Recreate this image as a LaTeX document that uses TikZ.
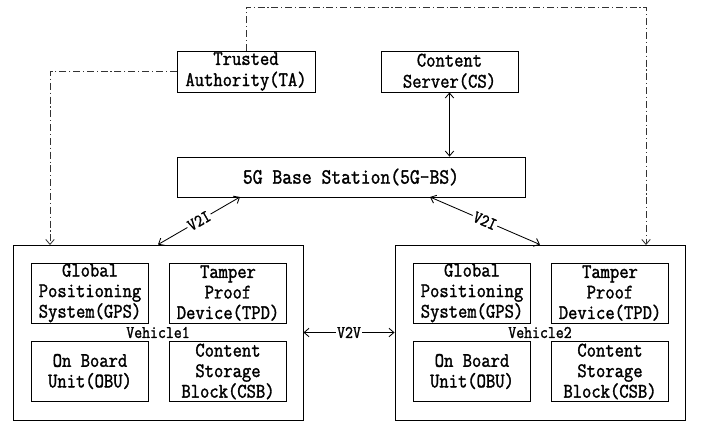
\documentclass[tikz,border=0pt]{standalone}
\usepackage{fontspec}
\newfontfamily\diagfont[FakeStretch=0.875, FakeBold=1.5]{Latin Modern Mono}
\usetikzlibrary{arrows.meta}

\tikzset{
    entity/.style={draw, line width=0.6pt, inner sep=0pt, align=center,
        font=\diagfont\fontsize{14.7}{15}\selectfont},
    carbox/.style={entity, minimum width=7.25cm, minimum height=4.375cm,
        font=\diagfont\fontsize{12.5}{13}\selectfont},
    partbox/.style={entity, minimum width=2.925cm, minimum height=1.5cm,
        font=\diagfont\fontsize{14.7}{14.6}\selectfont},
    link/.style={line width=0.6pt},
    trust/.style={line width=0.6pt, black!80, dash pattern=on 5pt off 2pt on 0.8pt off 2pt},
    linklabel/.style={fill=white, inner sep=1pt, font=\diagfont\fontsize{12.5}{13}\selectfont},
}

\begin{document}
\begin{tikzpicture}[x=0.025cm, y=-0.025cm, >={Straight Barb[length=3.5pt,width=6pt]}]
    \useasboundingbox (0,0) rectangle (701,423);

    % infrastructure
    \node[entity, minimum width=3.45cm, minimum height=1.025cm] (ta) at (246,71.5) {Trusted\\Authority(TA)};
    \node[entity, minimum width=3.425cm, minimum height=1.025cm] (cs) at (449.5,71.5) {Content\\Server(CS)};
    \node[entity, minimum width=8.7cm, minimum height=1cm,
        font=\diagfont\fontsize{15.5}{16}\selectfont] (bs) at (351,177) {5G Base Station(5G-BS)};

    % the two vehicles and their on-board parts
    \foreach \i/\dx in {1/0, 2/382} {
        \node[carbox] (v\i) at (158+\dx,332.5) {Vehicle\i};
        \node[partbox] (gps\i) at (90+\dx,293) {Global\\Positioning\\System(GPS)};
        \node[partbox] (tpd\i) at (228+\dx,293) {Tamper\\Proof\\Device(TPD)};
        \node[partbox] (obu\i) at (90+\dx,371.5) {On Board\\Unit(OBU)};
        \node[partbox] (csb\i) at (228+\dx,371.5) {Content\\Storage\\Block(CSB)};
    }

    \coordinate (v1in) at (50,245);
    \coordinate (v2in) at (646,245);
    \coordinate (tacorner) at (646,7);
    \coordinate (bsl) at (240,197);
    \coordinate (bsr) at (430,197);

    % TA to the vehicles
    \draw[trust, ->] (ta.west) -| (v1in);
    \draw[trust, ->] (ta.north) |- (tacorner) -- (v2in);

    % communication links
    \draw[link, <->] (cs.south) -- (cs.south |- bs.north);
    \draw[link, <->] (bsl) -- node[linklabel, sloped] {V2I} (v1.north);
    \draw[link, <->] (bsr) -- node[linklabel, sloped] {V2I} (v2.north);
    \draw[link, <->] (v1.east) -- node[linklabel] {V2V} (v2.west);
\end{tikzpicture}
\end{document}
